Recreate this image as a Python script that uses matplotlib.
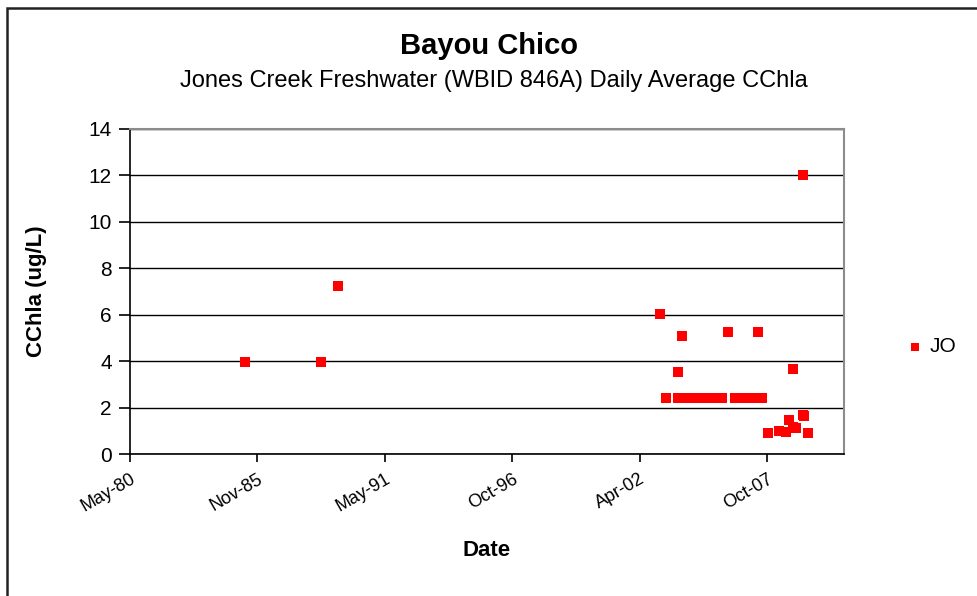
import numpy as np
import pandas as pd
import matplotlib
matplotlib.use('Agg')
import matplotlib.pyplot as plt
import matplotlib.dates as mdates
from matplotlib.patches import Rectangle

plt.rcParams['font.family'] = ['Liberation Sans', 'DejaVu Sans']

# data
dates = ['1985-05-07', '1988-08-12', '1989-05-06', '2003-03-05', '2003-06-12',
         '2003-12-02', '2004-02-13', '2003-12-17', '2004-02-18', '2004-06-07',
         '2004-09-25', '2004-12-13', '2005-03-01', '2005-05-19', '2005-08-05',
         '2005-11-07', '2006-05-15', '2006-08-01', '2006-11-19', '2007-02-21',
         '2007-07-28', '2006-02-09', '2007-05-11', '2008-11-11', '2007-10-30',
         '2008-04-09', '2008-08-03', '2008-09-24', '2008-11-11', '2009-01-07',
         '2009-04-21', '2009-05-10', '2009-07-08', '2009-05-02']
cchla = [3.95, 3.95, 7.25, 6.05, 2.4,
         3.55, 5.1, 2.4, 2.4, 2.4,
         2.4, 2.4, 2.4, 2.4, 2.4,
         2.4, 2.4, 2.4, 2.4, 2.4,
         2.4, 5.25, 5.25, 3.65, 0.9,
         1.0, 0.95, 1.45, 1.15, 1.1,
         1.7, 1.65, 0.9, 12.0]
series_name = 'JO'

df = pd.DataFrame({'date': pd.to_datetime(dates), 'cchla': cchla})

x_start = pd.Timestamp('1980-05-20')
x_end = x_start + pd.Timedelta(days=11210)

fig = plt.figure(figsize=(9.77, 5.96), dpi=100)
ax = fig.add_axes([130 / 977, 1 - 454 / 596, 714 / 977, 325 / 596])

ax.scatter(df['date'], df['cchla'], marker='s', s=50, color='#ff0000',
           linewidths=0, zorder=3, label=series_name)

ax.set_xlim(x_start, x_end)
ax.set_ylim(0, 14)
ax.set_yticks(np.arange(0, 15, 2))
ticks = [x_start + pd.Timedelta(days=2000 * i) for i in range(6)]
ax.set_xticks(ticks)
ax.xaxis.set_major_formatter(mdates.DateFormatter('%b-%y'))
plt.setp(ax.get_xticklabels(), rotation=30, ha='right', rotation_mode='anchor')

ax.grid(axis='y', color='black', lw=1)
ax.set_axisbelow(True)
for s in ['top', 'right']:
    ax.spines[s].set_color('#8c8c8c')
    ax.spines[s].set_linewidth(1.5)
ax.spines['left'].set_linewidth(1.2)
ax.spines['bottom'].set_linewidth(1.2)
ax.tick_params(axis='y', length=8, width=1.2, labelsize=15, pad=5)
ax.tick_params(axis='x', length=6, width=1.2, labelsize=13, pad=6)

ax.set_ylabel('CChla (ug/L)', fontsize=16, fontweight='bold', labelpad=30)
ax.set_xlabel('Date', fontsize=16, fontweight='bold', labelpad=18)

fig.text(0.5, 1 - 46 / 596, 'Bayou Chico', ha='center', va='center',
         fontsize=21, fontweight='bold')
fig.text(0.505, 1 - 81 / 596, 'Jones Creek Freshwater (WBID 846A) Daily Average CChla',
         ha='center', va='center', fontsize=17)

fig.legend(loc='center left', bbox_to_anchor=(888 / 977, 1 - 347 / 596),
           frameon=False, fontsize=15, handlelength=0.8, handletextpad=0.3,
           markerscale=0.85)

fig.patches.append(Rectangle((7 / 977, -0.1), 1.1, 1 - 8 / 596 + 0.1,
                             transform=fig.transFigure, fill=False,
                             edgecolor='#222222', lw=1.8))

fig.savefig('out.png', dpi=100)
